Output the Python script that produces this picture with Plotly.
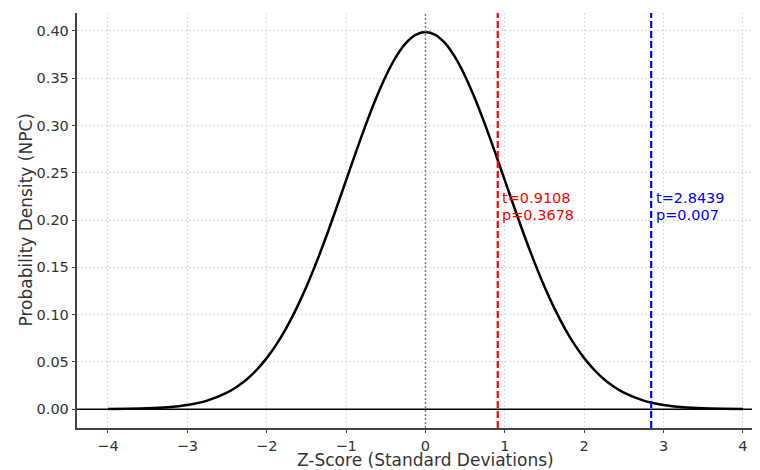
import plotly.graph_objects as go

# Curve points (standard normal density)
z_values = [-4.0, -3.75, -3.5, -3.25, -3.0, -2.75, -2.5, -2.375, -2.25, -2.125, -2.0, -1.875, -1.75, -1.625,
            -1.5, -1.375, -1.25, -1.125, -1.0, -0.875, -0.75, -0.625, -0.5, -0.375, -0.25, -0.125,
            0.0, 0.125, 0.25, 0.375, 0.5, 0.625, 0.75, 0.875, 1.0, 1.125, 1.25, 1.375, 1.5, 1.625,
            1.75, 1.875, 2.0, 2.125, 2.25, 2.375, 2.5, 2.75, 3.0, 3.25, 3.5, 3.75, 4.0]
density = [0.0001, 0.0004, 0.0009, 0.0020, 0.0044, 0.0091, 0.0175, 0.0238, 0.0317, 0.0417, 0.0540, 0.0688,
           0.0863, 0.1066, 0.1295, 0.1550, 0.1826, 0.2119, 0.2420, 0.2720, 0.3011, 0.3282, 0.3521, 0.3719,
           0.3867, 0.3958, 0.3989, 0.3958, 0.3867, 0.3719, 0.3521, 0.3282, 0.3011, 0.2720, 0.2420, 0.2119,
           0.1826, 0.1550, 0.1295, 0.1066, 0.0863, 0.0688, 0.0540, 0.0417, 0.0317, 0.0238, 0.0175, 0.0091,
           0.0044, 0.0020, 0.0009, 0.0004, 0.0001]

t_values = [0.9108, 2.8439]
p_values = ["0.3678", "0.007"]
t_labels = ["0.9108", "2.8439"]
line_colors = ["red", "blue"]

x_ticks = [-4, -3, -2, -1, 0, 1, 2, 3, 4]
x_tick_text = ["\u22124", "\u22123", "\u22122", "\u22121", "0", "1", "2", "3", "4"]
y_ticks = [0.0, 0.05, 0.10, 0.15, 0.20, 0.25, 0.30, 0.35, 0.40]

x_title = "Z-Score (Standard Deviations)"
y_title = "Probability Density (NPC)"

FONT = "DejaVu Sans"
TXT = "#333333"

fig = go.Figure()

shapes = []
# baseline at y=0
shapes.append(dict(type="line", xref="x domain", yref="y", x0=0, x1=1, y0=0, y1=0,
                   line=dict(color="black", width=1.5), layer="above"))
# dotted mean line
shapes.append(dict(type="line", xref="x", yref="y domain", x0=0, x1=0, y0=0, y1=1,
                   line=dict(color="gray", width=1.5, dash="2px,2px"), layer="above"))
for t, c in zip(t_values, line_colors):
    shapes.append(dict(type="line", xref="x", yref="y domain", x0=t, x1=t, y0=0, y1=1,
                       line=dict(color=c, width=2.2, dash="7px,3px"), layer="above"))

fig.add_trace(go.Scatter(x=z_values, y=density, mode="lines",
                         line=dict(color="black", width=2.5, shape="spline", smoothing=0.8),
                         showlegend=False, hoverinfo="skip"))

annotations = []
for t, p, tl, c in zip(t_values, p_values, t_labels, line_colors):
    annotations.append(dict(x=t + 0.03, y=0.2235, xref="x", yref="y", xanchor="left", yanchor="middle",
                            text=f"t={tl}", showarrow=False, align="left",
                            font=dict(family=FONT, size=14.5, color=c)))
    annotations.append(dict(x=t + 0.03, y=0.2055, xref="x", yref="y", xanchor="left", yanchor="middle",
                            text=f"p={p}", showarrow=False, align="left",
                            font=dict(family=FONT, size=14.5, color=c)))
# axis titles
annotations.append(dict(x=0, y=0, xref="x", yref="paper", xanchor="center", yanchor="middle",
                        yshift=-32, text=x_title, showarrow=False,
                        font=dict(family=FONT, size=17, color=TXT)))
annotations.append(dict(x=0, y=0.5, xref="paper", yref="paper", xanchor="center", yanchor="middle",
                        xshift=-52, textangle=-90, text=y_title, showarrow=False,
                        font=dict(family=FONT, size=17, color=TXT)))

# The page body adds an 8px offset, so the figure is sized to end at the window edge.
fig.update_layout(
    width=752, height=462,
    margin=dict(l=69, r=0, t=5, b=42),
    plot_bgcolor="white", paper_bgcolor="white",
    font=dict(family=FONT, color=TXT),
    shapes=shapes, annotations=annotations,
    showlegend=False,
)
fig.update_xaxes(range=[-4.39, 4.215], tickvals=x_ticks, ticktext=x_tick_text, automargin=False,
                 showgrid=True, gridcolor="#dcdcdc", griddash="2px,2px", gridwidth=0.8,
                 zeroline=False, showline=True, linecolor="#444444", linewidth=1.5,
                 ticks="outside", ticklen=3.5, tickcolor="#444444",
                 tickfont=dict(family=FONT, size=14.5, color=TXT))
fig.update_yaxes(range=[-0.0199, 0.4189], tickvals=y_ticks, tickformat=".2f", automargin=False,
                 showgrid=True, gridcolor="#dcdcdc", griddash="2px,2px", gridwidth=0.8,
                 zeroline=False, showline=True, linecolor="#444444", linewidth=1.5,
                 ticks="outside", ticklen=3.5, tickcolor="#444444",
                 tickfont=dict(family=FONT, size=14.5, color=TXT))

fig.write_html("out.html")
